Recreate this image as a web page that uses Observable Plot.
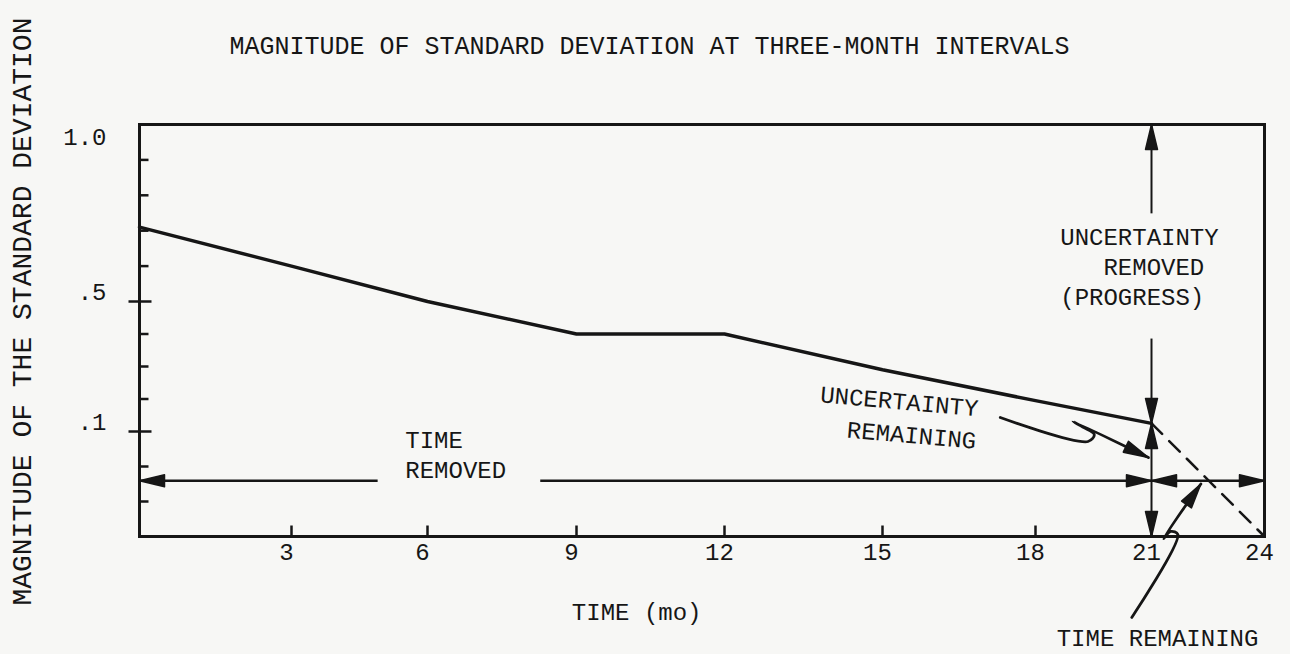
<!DOCTYPE html>
<html>
<head>
<meta charset="utf-8">
<script src="https://cdn.jsdelivr.net/npm/d3@7"></script>
<script src="https://cdn.jsdelivr.net/npm/@observablehq/plot@0.6"></script>
<style>
  html, body { margin: 0; padding: 0; background: #f7f7f5; }
  #chart svg { display: block; }
</style>
</head>
<body>
<div id="chart"></div>
<script>
// ---------------- data ----------------
const months = [0, 3, 6, 9, 12, 15, 18, 21];
const stdDev = [0.71, 0.60, 0.50, 0.40, 0.40, 0.29, 0.195, 0.125];
const projMonths = [21, 24];
const projStdDev = [0.125, 0];

const xTickValues = [3, 6, 9, 12, 15, 18, 21, 24];
const xTickMarks = [3, 6, 9, 12, 15, 18, 21];
const yLabelTicks = [0.1, 0.5];
const yTopTick = [1.0];
const yMinorTicks = [1 / 30, 2 / 30, 0.2, 0.3, 0.4, 0.6, 0.7, 0.8, 0.9];

// hand-drawn, non-uniform axis breakpoints
const xBreaks = [0, 3, 6, 9, 12, 15, 18, 21, 24];
const yBreaks = [0, 0.1, 0.5, 1.0];

// annotation geometry (data units)
const timeLevel = 0.053;
const timeFrom = [0, 8.27, 21];
const timeTo = [4.9, 21, 24];
const progressMonth = 21;
const progressFrom = [1.0, 0.386, 0.125];
const progressTo = [0.749, 0.125, 0];

const hookMonths = [17.31, 19.36, 19.52, 19.25, 18.97, 20.92];
const hookValues = [0.143, 0.0905, 0.0970, 0.112, 0.131, 0.0752];
const remainMonths = [20.49, 21.70, 21.51, 21.32, 22.31];
const remainValues = [-0.0771, 0.0019, 0.0048, -0.0019, 0.050];

const headMonths = [21, 21, 21, 21, 0, 21, 21, 24, 20.92, 22.31];
const headValues = [1.0, 0.125, 0.125, 0, timeLevel, timeLevel, timeLevel, timeLevel, 0.0752, 0.050];
const headAngles = [-90, 90, -90, 90, 180, 0, 180, 0, 25.6, -55];

// texts
const titleText = "MAGNITUDE OF STANDARD DEVIATION AT THREE-MONTH INTERVALS";
const yTitle = "MAGNITUDE OF THE STANDARD DEVIATION";
const xTitle = "TIME (mo)";
const titleMonth = 10.48, titleValue = 1.223;
const yTitleMonth = -2.31, yTitleValue = 0.469;
const xTitleMonth = 10.22, xTitleValue = -0.0724;

const startNotes = ["TIME\nREMOVED", "UNCERTAINTY\n\u00a0\u00a0\u00a0REMOVED\n(PROGRESS)"];
const startNoteMonths = [5.51, 18.64];
const startNoteValues = [0.0795, 0.603];

const slantNotes = ["UNCERTAINTY", "REMAINING"];
const slantNoteMonths = [15.33, 15.57];
const slantNoteValues = [0.192, 0.0962];

const bottomNote = ["TIME REMAINING"];
const bottomNoteMonth = 21.16, bottomNoteValue = -0.097;

// ---------------- layout / style ----------------
const W = 1290, H = 654;
const xRange = [139, 291, 427, 576, 724, 882, 1035, 1151, 1264];
const yRange = [536, 431, 301, 124];
const ink = "#161616";

// ---------------- helpers ----------------
function head(angle, len = 25, wid = 12) {
  const a = angle * Math.PI / 180, c = Math.cos(a), s = Math.sin(a);
  const pt = (u, v) => [u * c - v * s, u * s + v * c];
  return {
    draw(ctx) {
      const p0 = pt(0, 0), p1 = pt(-len, -wid / 2), p3 = pt(-len, wid / 2);
      ctx.moveTo(p0[0], p0[1]);
      ctx.lineTo(p1[0], p1[1]);
      ctx.lineTo(p3[0], p3[1]);
      ctx.closePath();
    }
  };
}
const tickUp = {draw(ctx) { ctx.moveTo(0, 0); ctx.lineTo(0, -11); }};
const tickRight = {draw(ctx) { ctx.moveTo(0, 0); ctx.lineTo(9, 0); }};
const tickCross = {draw(ctx) { ctx.moveTo(-11, 0); ctx.lineTo(12, 0); }};

const series = months.map((m, i) => ({month: m, sd: stdDev[i]}));
const proj = projMonths.map((m, i) => ({month: m, sd: projStdDev[i]}));
const timeSegs = timeFrom.map((f, i) => ({x1: f, x2: timeTo[i], y: timeLevel}));
const progSegs = progressFrom.map((f, i) => ({x: progressMonth, y1: f, y2: progressTo[i]}));
const hook = hookMonths.map((m, i) => ({month: m, sd: hookValues[i]}));
const remain = remainMonths.map((m, i) => ({month: m, sd: remainValues[i]}));
const heads = headMonths.map((m, i) => ({month: m, sd: headValues[i], angle: headAngles[i]}));

const fmt = d => d === 1 ? "1.0" : String(d).replace(/^0/, "");

const chart = Plot.plot({
  width: W,
  height: H,
  marginLeft: xRange[0],
  marginRight: W - xRange[xRange.length - 1],
  marginTop: yRange[yRange.length - 1],
  marginBottom: H - yRange[0],
  style: {background: "transparent", fontFamily: "'Liberation Mono', monospace", color: ink, overflow: "visible"},
  x: {type: "linear", domain: xBreaks, range: xRange},
  y: {type: "linear", domain: yBreaks, range: yRange},
  marks: [
    Plot.frame({stroke: ink, strokeWidth: 3}),
    Plot.axisX(xTickValues, {anchor: "bottom", tickSize: 0, tickPadding: 6, dx: -5, fontSize: 24, label: null}),
    Plot.axisY(yLabelTicks, {anchor: "left", tickSize: 0, tickPadding: 33, dy: -9, fontSize: 24, tickFormat: fmt, label: null}),
    Plot.axisY(yTopTick, {anchor: "left", tickSize: 0, tickPadding: 33, dy: 13, fontSize: 24, tickFormat: fmt, label: null}),
    Plot.dot(xTickMarks, {x: d => d, y: 0, symbol: tickUp, r: 1, fill: "none", stroke: ink, strokeWidth: 2.5}),
    Plot.dot(yMinorTicks, {x: 0, y: d => d, symbol: tickRight, r: 1, fill: "none", stroke: ink, strokeWidth: 2.5}),
    Plot.dot(yLabelTicks, {x: 0, y: d => d, symbol: tickCross, r: 1, fill: "none", stroke: ink, strokeWidth: 2.5}),
    // data
    Plot.line(series, {x: "month", y: "sd", stroke: ink, strokeWidth: 3.5, strokeLinejoin: "round"}),
    Plot.line(proj, {x: "month", y: "sd", stroke: ink, strokeWidth: 2.5, strokeDasharray: "15,10"}),
    // annotation lines
    Plot.link(timeSegs, {x1: "x1", x2: "x2", y1: "y", y2: "y", stroke: ink, strokeWidth: 2.5}),
    Plot.link(progSegs, {x1: "x", x2: "x", y1: "y1", y2: "y2", stroke: ink, strokeWidth: 2}),
    Plot.line(hook, {x: "month", y: "sd", stroke: ink, strokeWidth: 2.8, curve: "catmull-rom"}),
    Plot.line(remain, {x: "month", y: "sd", stroke: ink, strokeWidth: 2.8, curve: "catmull-rom"}),
    ...heads.map(h => Plot.dot([h], {x: "month", y: "sd", symbol: head(h.angle), r: 1, fill: ink, stroke: ink, strokeWidth: 1.5, strokeLinejoin: "round"})),
    // texts
    Plot.text([titleText], {x: titleMonth, y: titleValue, fontSize: 25}),
    Plot.text([yTitle], {x: yTitleMonth, y: yTitleValue, rotate: -90, fontSize: 28}),
    Plot.text([xTitle], {x: xTitleMonth, y: xTitleValue, fontSize: 24}),
    Plot.text(startNotes, {x: (d, i) => startNoteMonths[i], y: (d, i) => startNoteValues[i], textAnchor: "start", fontSize: 24, lineHeight: 1.25}),
    Plot.text(slantNotes, {x: (d, i) => slantNoteMonths[i], y: (d, i) => slantNoteValues[i], rotate: 5, fontSize: 24}),
    Plot.text(bottomNote, {x: bottomNoteMonth, y: bottomNoteValue, fontSize: 24})
  ]
});
document.getElementById("chart").appendChild(chart);
</script>
</body>
</html>
